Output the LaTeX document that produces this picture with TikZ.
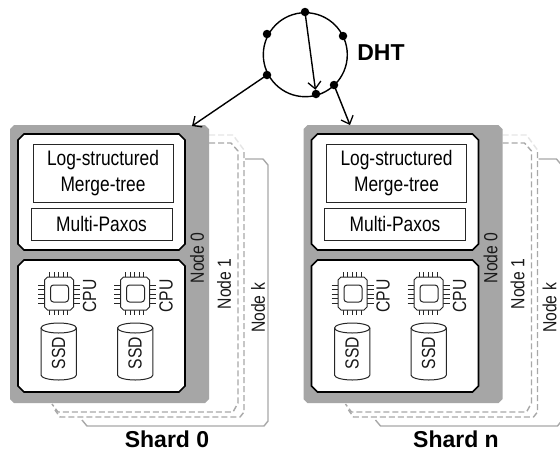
\documentclass[tikz,border=0pt]{standalone}
\usepackage{fontspec}
\setmainfont{Liberation Sans}
\newfontfamily\narrowfont[FakeStretch=0.827]{Liberation Sans}
\usetikzlibrary{arrows.meta}
\definecolor{shardgray}{HTML}{A6A6A6}
\definecolor{lineg}{HTML}{A8A8A8}
\tikzset{
  x=1pt,y=-1pt,
  every node/.style={inner sep=0pt,outer sep=0pt},
  blackbox/.style={draw=black,line width=1.6pt,fill=white},
  logicbox/.style={draw=black!85,line width=0.8pt,fill=white,align=center,font=\narrowfont\fontsize{21}{26}\selectfont},
  sidelabel/.style={rotate=90,font=\narrowfont\fontsize{19}{20}\selectfont,text=black!90},
  ghostdash/.style={draw=lineg,line width=1.4pt,dash pattern=on 6pt off 3pt},
  ghostsolid/.style={draw=lineg,line width=1.4pt},
  chipline/.style={draw=black!85,line width=0.7pt},
  dot/.style={circle,fill=black,minimum size=8.5pt},
  link/.style={draw=black,line width=1.4pt,-{Straight Barb[length=7pt,width=13pt,line width=1.3pt]}},
  titlelabel/.style={font=\bfseries\fontsize{23}{25}\selectfont},
}
\newcommand{\chipat}[2]{%
  \begin{scope}[shift={(#1,#2)}]
    \foreach \k in {0,4.5,9,13.5,18}{
      \draw[chipline] (5+\k,-5) -- (5+\k,0);
      \draw[chipline] (5+\k,33) -- (5+\k,38);
      \draw[chipline] (-6.5,8+\k) -- (0,8+\k);
      \draw[chipline] (29,8+\k) -- (35.5,8+\k);
    }
    \draw[chipline,line width=1pt,fill=white] (3,0) -- (26,0) -- (29,3) -- (29,30) -- (26,33) -- (3,33) -- (0,30) -- (0,3) -- cycle;
    \draw[chipline,line width=1pt,rounded corners=3pt] (6,8) rectangle (24,25);
  \end{scope}}
\newcommand{\ssdat}[2]{%
  \begin{scope}[shift={(#1,#2)}]
    \draw[chipline,line width=1pt,fill=white] (0,5) -- (0,52) arc[start angle=180,end angle=0,x radius=17.7,y radius=5] -- (35.4,5) arc[start angle=0,end angle=-180,x radius=17.7,y radius=5] -- cycle;
    \draw[chipline,line width=1pt] (0,5) arc[start angle=180,end angle=0,x radius=17.7,y radius=5];
  \end{scope}}
\begin{document}
\begin{tikzpicture}
\useasboundingbox (0,0) rectangle (560,451);
\clip (0,0) rectangle (560,451);
\fill[white] (0,0) rectangle (560,451);
\foreach \s/\dx/\kx in {0/0/258,n/293.5/256}{
\begin{scope}[shift={(\dx,0)}]
  % node k outline
  \draw[ghostsolid] (245,159) -- (263,159) -- (268,165) -- (268,421) -- (264,426) -- (87,426) -- (82,420);
  % second dashed outline
  \draw[ghostdash,draw=lineg!30] (209,135) -- (233,135) -- (244,150);
  \draw[ghostdash] (244,152) -- (244,412) -- (240,417) -- (60,417) -- (55,410);
  % node 1 outline
  \draw[ghostdash] (209,143) -- (231,143) -- (238,151) -- (238,403) -- (233,412) -- (58,412) -- (52,404);
  % node 0 body
  \fill[shardgray] (14,125) -- (205,125) -- (209,129) -- (209,399) -- (205,403) -- (14,403) -- (10,399) -- (10,129) -- cycle;
  \draw[blackbox] (24,134) -- (179,134) -- (185,140) -- (185,244) -- (179,250) -- (24,250) -- (18,244) -- (18,140) -- cycle;
  \draw[blackbox] (24,260) -- (179,260) -- (185,266) -- (185,386) -- (179,392) -- (24,392) -- (18,386) -- (18,266) -- cycle;
  \node[logicbox,minimum width=140pt,minimum height=58pt] (lsm\s) at (103,173) {Log-structured\\Merge-tree};
  \node[logicbox,minimum width=141pt,minimum height=32pt] (paxos\s) at (101.5,224) {Multi-Paxos};
  \chipat{44.5}{277}
  \chipat{120.5}{277}
  \node[sidelabel] (cpua\s) at (89.5,296) {CPU};
  \node[sidelabel] (cpub\s) at (166,296) {CPU};
  \ssdat{41}{323}
  \ssdat{117.5}{323}
  \node[sidelabel] (ssda\s) at (58.5,353) {SSD};
  \node[sidelabel] (ssdb\s) at (135,353) {SSD};
  \node[sidelabel] (nodezero\s) at (197,258) {Node 0};
  \node[sidelabel] (nodeone\s) at (224,284) {Node 1};
  \node[sidelabel] (nodek\s) at (\kx,308) {Node k};
\end{scope}
}
\node[titlelabel] (shardzero) at (167,439) {Shard 0};
\node[titlelabel] (shardn) at (456,439) {Shard n};
% DHT ring
\draw[line width=1.4pt] (305.3,54.7) circle[radius=42];
\node[dot] (d1) at (305,12) {};
\node[dot] (d2) at (267,34) {};
\node[dot] (d3) at (343,36) {};
\node[dot] (d4) at (267,75) {};
\node[dot] (d5) at (316,94) {};
\node[dot] (d6) at (334,85) {};
\node[titlelabel] (dht) at (381,53) {DHT};
\coordinate (entry0) at (192,126);
\coordinate (entryn) at (350,125);
\draw[link] (d1.center) -- (d5);
\draw[link] (d4.center) -- (entry0);
\draw[link] (d6.center) -- (entryn);
\end{tikzpicture}
\end{document}
